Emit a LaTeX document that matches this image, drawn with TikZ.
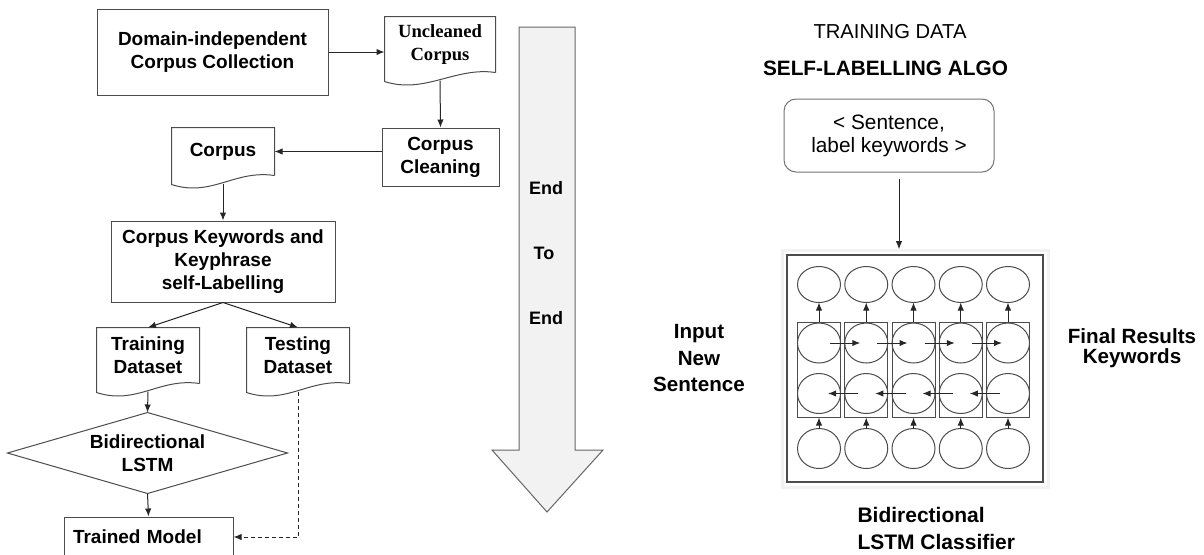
\documentclass[tikz,border=0pt]{standalone}
\usepackage{fontspec}
\setmainfont{Liberation Sans}
\newfontfamily\serifFont{Liberation Serif}
\usetikzlibrary{arrows.meta,shapes.geometric,calc}
\newcommand\colorBox{black!70}
\newcommand\colorArrow{black!85}
\newcommand\lstmN{4}
\newcommand\lstmX{819}
\newcommand\lstmDX{47.25}
\newcommand\drawDoc[1]{
	\draw[color=\colorBox]
	(#1.south east) to (#1.north east) to (#1.north west) to
	($(#1.south west)+(0,9)$) .. controls ($(#1.south west)+(40,22)$) and ($(#1.south east)+(-40,-6)$) .. (#1.south east);
}
\tikzset{
	flowbox/.style={draw=\colorBox, inner sep=0pt, align=center, font=\fontsize{9.5}{11.5}\selectfont\bfseries},
	docbox/.style={inner sep=0pt, align=center, font=\fontsize{9.5}{11.5}\selectfont\bfseries},
	cell/.style={ellipse, draw=\colorBox, minimum width=21.5pt, minimum height=20pt, inner sep=0pt, outer sep=0pt},
	blk/.style={draw=\colorBox, minimum width=21.5pt, minimum height=47.5pt, inner sep=0pt},
	bigtext/.style={inner sep=0pt, align=center, font=\fontsize{10.3}{13.3}\selectfont\bfseries},
}

\begin{document}
\begin{tikzpicture}[x=0.5pt, y=-0.5pt, line width=0.5pt, >={Latex[length=4pt,width=3.2pt]}]
	\useasboundingbox (0,0) rectangle (1204,554);

	% left flow chart
	\node[flowbox, minimum width=115.5pt, minimum height=43pt] (domain) at (212.5,52) {Domain-independent\\Corpus Collection};
	\node[docbox, font=\serifFont\fontsize{9.3}{11.5}\selectfont\bfseries, minimum width=55pt, minimum height=27.5pt] (uncleaned) at (440,44.5) {Uncleaned\\Corpus};
	\node[flowbox, minimum width=58.5pt, minimum height=29pt] (cleaning) at (440.5,157) {Corpus\\Cleaning};
	\node[docbox, minimum width=51pt, minimum height=23.5pt] (corpus) at (223,151.5) {Corpus};
	\node[flowbox, minimum width=112pt, minimum height=40.5pt] (keywords) at (223,261.5) {Corpus Keywords and\\Keyphrase\\self-Labelling};
	\node[docbox, minimum width=51pt, minimum height=27.5pt] (training) at (148,355.5) {Training\\Dataset};
	\node[docbox, minimum width=51pt, minimum height=27.5pt] (testing) at (298,355.5) {Testing\\Dataset};
	\node[docbox, minimum width=139.5pt, minimum height=40pt] (bilstm) at (147.5,453) {Bidirectional\\LSTM};
	\node[flowbox, minimum height=20pt, text width=75.5pt, align=left, inner xsep=4.5pt] (trained) at (148.5,537) {Trained Model};

	\drawDoc{uncleaned}
	\drawDoc{corpus}
	\drawDoc{training}
	\drawDoc{testing}
	\draw[color=\colorBox] (bilstm.north) to (bilstm.east) to (bilstm.south) to (bilstm.west) to cycle;

	\draw[->, color=\colorArrow] (domain.east) to (domain.east -| uncleaned.west);
	\draw[->, color=\colorArrow] ($(uncleaned.south)+(0,8)$) to (cleaning.north);
	\draw[->, color=\colorArrow] (cleaning.west |- corpus.east) to (corpus.east);
	\draw[->, color=\colorArrow] ($(corpus.south)+(0,8)$) to (keywords.north);
	\draw[->, color=\colorArrow] (keywords.south) to (training.north);
	\draw[->, color=\colorArrow] (keywords.south) to (testing.north);
	\draw[->, color=\colorArrow] ($(training.south)+(0,8)$) to (bilstm.north);
	\draw[->, color=\colorArrow] (bilstm.south) to (trained.north);
	\draw[->, color=\colorArrow, dash pattern=on 2pt off 1.5pt] ($(testing.south)+(0,8)$) |- (trained.east);

	% end to end arrow
	\draw[color=black!60, fill=black!5] (519,27) to (575,27) to (575,450) to (603,450) to (547,512) to (492,450) to (519,450) to cycle;
	\node[bigtext, font=\fontsize{9}{11}\selectfont\bfseries] (end1) at (546,188) {End};
	\node[bigtext, font=\fontsize{9}{11}\selectfont\bfseries] (to) at (544,253) {To};
	\node[bigtext, font=\fontsize{9}{11}\selectfont\bfseries] (end2) at (546,318) {End};

	% self labelling and classifier
	\node[inner sep=0pt, font=\fontsize{10.1}{12}\selectfont] (title) at (890,32) {TRAINING DATA};
	\node[inner sep=0pt, font=\fontsize{10.4}{12}\selectfont\bfseries] (algo) at (885.5,68) {SELF-LABELLING ALGO};
	\node[draw=black!55, rounded corners=6pt, minimum width=105pt, minimum height=36.5pt, inner sep=0pt, align=center, font=\fontsize{10.4}{11.5}\selectfont] (pair) at (889,135.5) {< Sentence,\\label keywords >};

	\draw[black!5, line width=1.5pt] (782,250) rectangle (1048,487);
	\node[draw=black!70, line width=0.8pt, minimum width=128pt, minimum height=113.5pt, inner sep=0pt] (frame) at (915,368.5) {};
	\draw[->, color=\colorArrow] ($(pair.south)+(10,6)$) to ($(frame.north)+(-16,-5)$);

	\foreach \i in {0,...,\lstmN}{
		\node[cell, minimum height=18pt] (o-\i) at (\lstmX+\lstmDX*\i,284.5) {};
		\node[cell] (f-\i) at (\lstmX+\lstmDX*\i,343) {};
		\node[cell] (b-\i) at (\lstmX+\lstmDX*\i,393.5) {};
		\node[cell] (x-\i) at (\lstmX+\lstmDX*\i,448.5) {};
		\node[blk] (blk-\i) at (\lstmX+\lstmDX*\i,369.5) {};
		\draw[->, color=\colorArrow] (blk-\i.north) to (o-\i.south);
		\draw[->, color=\colorArrow] (x-\i.north) to (blk-\i.south);
	}
	\foreach \i/\j in {0/1,1/2,2/3,3/4}{
		\draw[->, color=\colorArrow] ($(f-\i.center)+(11,0)$) to ($(f-\j.center)+(-6,0)$);
		\draw[->, color=\colorArrow] ($(b-\j.center)+(-8,0)$) to ($(b-\i.center)+(9,0)$);
	}

	\node[bigtext] (input) at (699,358) {Input\\New\\Sentence};
	\node[bigtext, font=\fontsize{10.3}{9.8}\selectfont\bfseries] (final) at (1132,348) {Final Results\\Keywords};
	\node[bigtext, anchor=west, align=left, font=\fontsize{10.5}{13.5}\selectfont\bfseries] (classifier) at (857,528) {Bidirectional\\LSTM Classifier};
\end{tikzpicture}
\end{document}
